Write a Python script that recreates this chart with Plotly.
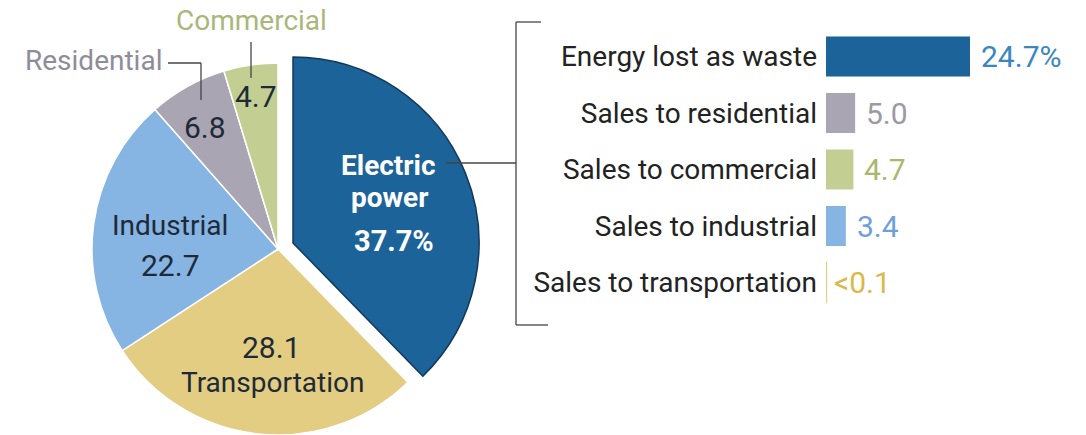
import plotly.graph_objects as go

W, H = 1086, 435

# ---- data ----
pie_labels = ["Electric power", "Transportation", "Industrial", "Residential", "Commercial"]
pie_values = [37.7, 28.1, 22.7, 6.8, 4.7]
pie_colors = ["#1b6399", "#e3cd82", "#86b4e3", "#a9a5b3", "#c3cf92"]

bar_labels = ["Energy lost as waste", "Sales to residential", "Sales to commercial",
              "Sales to industrial", "Sales to transportation"]
bar_values = [24.7, 5.0, 4.7, 3.4, 0.1]
bar_text = ["24.7%", "5.0", "4.7", "3.4", "<0.1"]
bar_colors = ["#1b6399", "#a9a5b3", "#c3cf92", "#86b4e3", "#e6cf7f"]
bar_text_colors = ["#3a86bf", "#9c99a4", "#a9b86a", "#6e9fd8", "#d9b94a"]

FONT = "Roboto"
DARK = "#1e2a38"
TXT = 28
NUM = 30


def px(x):
    return x / W


def py(y):
    return 1 - y / H


fig = go.Figure()

# base pie (electric slice hidden, drawn pulled separately)
R = 186
cx, cy = 278, 249
base_colors = ["rgba(0,0,0,0)"] + pie_colors[1:]
base_lines = ["rgba(0,0,0,0)"] + ["white"] * 4
fig.add_trace(go.Pie(
    labels=pie_labels, values=pie_values, sort=False, direction="clockwise", rotation=0,
    marker=dict(colors=base_colors, line=dict(color=base_lines, width=1.5)),
    textinfo="none", hoverinfo="label+value",
    domain=dict(x=[px(cx - R), px(cx + R)], y=[py(cy + R), py(cy - R)]),
    showlegend=False,
))
# pulled electric slice
dx, dy = 15, -6
top_colors = [pie_colors[0]] + ["rgba(0,0,0,0)"] * 4
top_lines = ["#12395a"] + ["rgba(0,0,0,0)"] * 4
fig.add_trace(go.Pie(
    labels=pie_labels, values=pie_values, sort=False, direction="clockwise", rotation=0,
    marker=dict(colors=top_colors, line=dict(color=top_lines, width=1.5)),
    textinfo="none", hoverinfo="skip",
    domain=dict(x=[px(cx + dx - R), px(cx + dx + R)], y=[py(cy + dy + R), py(cy + dy - R)]),
    showlegend=False,
))

# bar chart
fig.add_trace(go.Bar(
    y=bar_labels, x=bar_values, orientation="h",
    marker=dict(color=bar_colors, line=dict(color=bar_colors, width=[0, 0, 0, 0, 1.2])),
    xaxis="x", yaxis="y", showlegend=False, hoverinfo="y+x",
))

pitch = 56.5
row0 = 56.5
y_top = row0 - pitch / 2
y_bot = row0 + 4 * pitch + pitch / 2
bar_x0 = 826
scale = 144 / 24.7

fig.update_layout(
    width=W, height=H, autosize=False,
    margin=dict(l=0, r=0, t=0, b=0),
    paper_bgcolor="white", plot_bgcolor="white",
    font=dict(family=FONT, color=DARK),
    bargap=0.29,
    xaxis=dict(domain=[px(bar_x0), 1], range=[0, (W - bar_x0) / scale],
               visible=False, fixedrange=True),
    yaxis=dict(domain=[py(y_bot), py(y_top)], autorange="reversed",
               showgrid=False, zeroline=False, showline=False, ticks="",
               ticklabelstandoff=8, tickfont=dict(size=TXT, color="#222222", family=FONT),
               fixedrange=True),
)

ann = []
for lab_, v, t, c in zip(bar_labels, bar_values, bar_text, bar_text_colors):
    ann.append(dict(x=v, y=lab_, xref="x", yref="y", text=t, showarrow=False,
                    xanchor="left", xshift=9 if v > 1 else 5,
                    font=dict(size=NUM, color=c, family=FONT)))


def lab(x, y, text, size=TXT, color=DARK, bold=False):
    if bold:
        text = "<b>" + text + "</b>"
    ann.append(dict(x=px(x), y=py(y), xref="paper", yref="paper", text=text,
                    showarrow=False, xanchor="center", yanchor="middle",
                    font=dict(size=size, color=color, family=FONT)))


lab(388, 165, "Electric", 28, "white", True)
lab(390, 197, "power", 28, "white", True)
lab(394, 241, "37.7%", 29, "white", True)
lab(271, 347, "28.1", NUM)
lab(272, 382, "Transportation")
lab(170, 225, "Industrial")
lab(170, 265, "22.7", NUM)
lab(205, 127, "6.8", NUM)
lab(256, 96, "4.7", NUM)
ann.append(dict(x=px(164), y=py(61), xref="paper", yref="paper", text="Residential",
                showarrow=False, xanchor="right", yanchor="middle",
                font=dict(size=TXT, color="#8f8c99", family=FONT)))
lab(251, 21, "Commercial", TXT, "#a9b77a")

fig.update_layout(annotations=ann)

LINE = dict(color="#444444", width=1.3)
shapes = []


def seg(x0, y0, x1, y1, line=LINE):
    shapes.append(dict(type="line", xref="paper", yref="paper",
                       x0=px(x0), y0=py(y0), x1=px(x1), y1=py(y1), line=line))


# leaders
seg(168, 63, 201, 63)
seg(201, 63, 201, 100)
seg(251, 42, 251, 78)
# connector + bracket
seg(446, 163, 516, 163)
seg(516, 22, 516, 325)
seg(516, 22, 541, 22)
seg(516, 325, 548, 325)
fig.update_layout(shapes=shapes)

fig.write_html("out.html", config={"displayModeBar": False},
               post_script="document.body.style.margin='0px';")
